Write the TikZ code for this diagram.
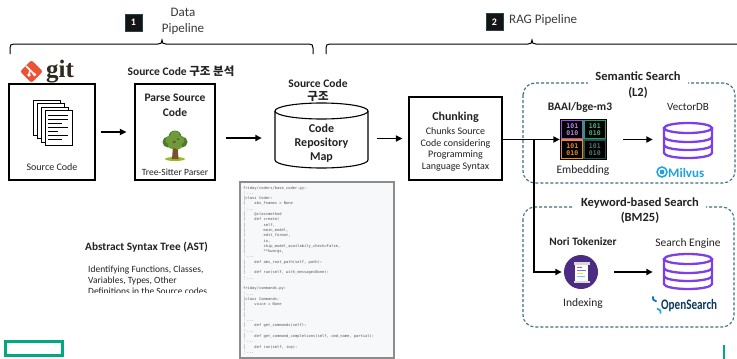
\documentclass[tikz,border=0pt]{standalone}
\usepackage{fontspec}
\setmainfont{Carlito}
\newfontfamily\kr{Noto Sans CJK KR}
\newfontfamily\codefont{DejaVu Sans Mono}
\newfontfamily\dvs{DejaVu Sans}
\newfontfamily\gitfont{Liberation Serif}
\usetikzlibrary{arrows.meta,calc}

\definecolor{txt}{HTML}{222222}
\definecolor{headtxt}{HTML}{3A3A3A}
\definecolor{gitred}{HTML}{F05133}
\definecolor{gitdark}{HTML}{2F2A1E}
\definecolor{dashc}{HTML}{3F6E7D}
\definecolor{dbpur}{HTML}{7F3FE6}
\definecolor{milvus}{HTML}{1CA0E6}
\definecolor{osnavy}{HTML}{0B3A5D}
\definecolor{osblue}{HTML}{0A72C9}
\definecolor{oslight}{HTML}{2AA7E0}
\definecolor{hpegreen}{HTML}{01A982}
\definecolor{circpur}{HTML}{4B2C82}
\definecolor{codegray}{HTML}{555555}
\definecolor{codebg}{HTML}{F7F8FA}
\definecolor{codeborder}{HTML}{8C8C8C}
\definecolor{cellpur}{HTML}{A04EE8}
\definecolor{cellgrn}{HTML}{22A06C}
\definecolor{cellorg}{HTML}{F08A1C}
\definecolor{celldim}{HTML}{2A5254}
\definecolor{leafA}{HTML}{6E9A3A}
\definecolor{leafB}{HTML}{4E7A2A}
\definecolor{trunk}{HTML}{7A5230}

% repo-map helpers
\newcommand\vd{{\dvs ⋮}...}
\newcommand\ind{\hspace*{2.41em}}

\begin{document}
\begin{tikzpicture}[x=1pt,y=-1pt,
  stagebox/.style={draw=black, line width=1.1pt, fill=white, inner sep=0pt},
  arr/.style={line width=1.6pt, -{Triangle[length=6.5pt,width=6pt]}},
  conn/.style={line width=1.8pt, -{Triangle[length=6.5pt,width=6pt]}},
  dashbox/.style={draw=dashc, dash pattern=on 3pt off 2pt, line width=1.1pt, rounded corners=12pt},
  lbl/.style={text=txt, inner sep=0pt, align=center},
  numbox/.style={fill=black!92, draw=dashc!60!black, line width=0.4pt, minimum size=17pt, inner sep=0pt,
                 text=white, font=\fontsize{10}{10}\selectfont\bfseries},
  cell/.style={line width=1.2pt, fill=black},
  bits/.style={font=\codefont\bfseries\fontsize{6.5}{7}\selectfont, align=center, inner sep=0pt},
  dbline/.style={draw=dbpur, line width=2.3pt, line cap=round},
]
\useasboundingbox (0,0) rectangle (737,359);
\fill[white] (0,0) rectangle (737,359);

% ---------- pipeline headers ----------
\draw[line width=1pt] (10,54) -- (10,48) .. controls (10,45) and (11,44) .. (14,44) -- (158,44)
  .. controls (161,44) and (162,43) .. (162,40) .. controls (162,43) and (163,44) .. (166,44)
  -- (309,44) .. controls (312,44) and (313,45) .. (313,48) -- (313,54);
\draw[line width=1pt] (326,54) -- (326,48) .. controls (326,45) and (327,44) .. (330,44) -- (528,44)
  .. controls (531,44) and (532,43) .. (532,40) .. controls (532,43) and (533,44) .. (536,44)
  -- (737,44);
\node[numbox] (n1) at (133.5,22.5) {1};
\node[lbl, text=headtxt, font=\fontsize{13}{16}\selectfont] (dp) at (183,21.5) {Data\\Pipeline};
\node[numbox] (n2) at (494.5,22) {2};
\node[lbl, text=headtxt, font=\fontsize{13}{16}\selectfont, anchor=west] (rp) at (509,20.5) {RAG Pipeline};

% ---------- git logo ----------
\node[fill=gitred, rotate=45, minimum size=16pt, inner sep=0pt, rounded corners=2pt] (gitmark) at (31.5,71.5) {};
\draw[white, line width=1.6pt] (26,66) -- (34.5,74.5);
\draw[white, line width=1.6pt] (30,70) -- (29,75);
\fill[white] (34.5,74.5) circle (1.9) (29,75) circle (1.9);
\node[anchor=base west, inner sep=0pt, text=gitdark, font=\gitfont\bfseries\fontsize{25}{25}\selectfont] (gittext) at (46,77) {git};

\node[lbl, font=\fontsize{11.5}{13}\selectfont\bfseries] (analysis) at (181,71) {Source Code {\kr 구조 분석}};

% ---------- source code ----------
\node[stagebox, minimum width=86pt, minimum height=96pt] (src) at (52,132) {};
\foreach \i in {0,1,2,3}{
  \draw[fill=white, line width=0.8pt] ({33+4*\i},{100+3.5*\i}) rectangle ({60+4*\i},{135+3.5*\i});
}
\foreach \yy/\ww in {115/20,119/20,123/14,127/20,131/10,135/20,139/14}{
  \draw[line width=1pt] (48,\yy) -- ({48+\ww},\yy);
}
\node[lbl, font=\fontsize{10}{12}\selectfont] (srclbl) at (52,167) {Source Code};

% ---------- parser ----------
\node[stagebox, minimum width=80pt, minimum height=96pt] (parse) at (175,132) {};
\node[lbl, font=\fontsize{11.5}{15}\selectfont\bfseries] (parsetitle) at (175,105.5) {Parse Source\\Code};
\fill[leafA!70!yellow] (175,159) ellipse (10 and 2);
\fill[trunk] (173,146) -- (177.5,146) -- (178.5,159) -- (172,159) -- cycle;
\fill[leafB] (168,142) circle (5.5) (182,142) circle (5.5) (175,137) circle (6.5);
\fill[leafA] (170,140) circle (4.5) (180,140) circle (4.5) (175,136) circle (5) (172,145) circle (4) (178,145.5) circle (4);
\fill[trunk!80!black] (174,142) circle (1.2) (178,139) circle (1);
\node[lbl, font=\fontsize{9.5}{11}\selectfont] (parselbl) at (175,172) {Tree-Sitter Parser};

% ---------- repository map (cylinder) ----------
\node[lbl, font=\fontsize{11.5}{13}\selectfont\bfseries] (maptitle) at (318,91) {Source Code\\{\kr 구조}};
\node[minimum width=93pt, minimum height=65pt, inner sep=0pt] (repo) at (321.5,135.5) {};
\draw[line width=1.1pt, fill=white] (275,111) -- (275,160) arc (180:0:46.5 and 8) -- (368,111);
\draw[line width=1.1pt, fill=white] (321.5,111) ellipse (46.5 and 8);
\node[lbl, font=\fontsize{12}{14}\selectfont\bfseries] (repolbl) at (321.5,143) {Code\\Repository\\Map};

% ---------- chunking ----------
\node[stagebox, minimum width=93pt, minimum height=83pt] (chunk) at (455.5,138.5) {};
\node[lbl, font=\fontsize{12}{14}\selectfont\bfseries] (chunktitle) at (455.5,117) {Chunking};
\node[lbl, font=\fontsize{10}{11.7}\selectfont] (chunkbody) at (455.5,149.5) {Chunks Source\\Code considering\\Programming\\Language Syntax};

% ---------- stage arrows ----------
\draw[arr] ([xshift=5pt]src.east) -- ([xshift=-8pt]parse.west);
\draw[arr] ([xshift=10pt,yshift=-6pt]parse.east) -- ([xshift=-13pt,yshift=-6pt]parse.east -| repo.west);
\draw[arr] ([xshift=9pt]repo.east |- chunk.east) -- ([xshift=-6pt]chunk.west);

% ---------- semantic search ----------
\draw[dashbox] (523,83) rectangle (735,183);
\node[lbl, fill=white, inner xsep=7pt, inner ysep=1pt, font=\fontsize{12.5}{16}\selectfont\bfseries] (semtitle) at (638,85) {Semantic Search\\(L2)};
\node[lbl, font=\fontsize{11.5}{13}\selectfont\bfseries] (bge) at (580,107) {BAAI/bge-m3};
\node[fill=black, minimum width=47pt, minimum height=41pt, inner sep=0pt] (emb) at (583.5,139.5) {};
\draw[cell, draw=cellpur] (561.5,120.5) rectangle (583,139);
\draw[cell, draw=cellgrn] (584,120.5) rectangle (605.5,139);
\draw[cell, draw=cellorg] (561.5,140) rectangle (583,158.5);
\draw[cell, draw=celldim] (584,140) rectangle (605.5,158.5);
\node[bits, text=cellpur!70!white] (b1) at (572.3,129.8) {101\\010};
\node[bits, text=cellgrn!80!white] (b2) at (594.8,129.8) {101\\010};
\node[bits, text=cellorg] (b3) at (572.3,149.3) {101\\010};
\node[bits, text=celldim!80!white] (b4) at (594.8,149.3) {101\\010};
\node[lbl, font=\fontsize{11.5}{13}\selectfont] (emblbl) at (583,170) {Embedding};

\node[lbl, font=\fontsize{11}{13}\selectfont] (vdblbl) at (688,107) {VectorDB};
\node[minimum width=50pt, minimum height=38pt, inner sep=0pt] (vdb) at (688,141) {};
\begin{scope}[shift={(vdb.center)}]
  \draw[dbline] (0,-13) ellipse (24 and 5);
  \draw[dbline] (-24,-13) -- (-24,12) arc (180:0:24 and 5) -- (24,-13);
  \draw[dbline] (-24,-4) arc (180:0:24 and 5);
  \draw[dbline] (-24,4) arc (180:0:24 and 5);
\end{scope}
\draw[milvus, line width=1.5pt] (662,172) circle (5);
\fill[milvus] (662,172) circle (2.4);
\node[anchor=west, inner sep=0pt, text=milvus, font=\fontsize{13}{13}\selectfont\bfseries] (milvuslbl) at (668,172.5) {Milvus};
\draw[arr] ([xshift=16pt]emb.east) -- ([xshift=-10pt]emb.east -| vdb.west);

% ---------- keyword search ----------
\draw[dashbox] (523,207) rectangle (734,327);
\node[lbl, fill=white, inner xsep=7pt, inner ysep=1pt, font=\fontsize{12.5}{15}\selectfont\bfseries] (kwtitle) at (640,210.5) {Keyword-based Search\\(BM25)};
\node[lbl, font=\fontsize{11.3}{13}\selectfont\bfseries] (nori) at (583,242) {Nori Tokenizer};
\node[circle, fill=circpur, minimum size=34pt, inner sep=0pt] (idx) at (581,272) {};
\fill[white] (575,264) rectangle (588,281);
\fill[black!15] (573.5,262) rectangle (589.5,264.5);
\fill[black!15] (573.5,280.5) rectangle (589.5,283);
\draw[red!75, line width=1pt] (577,267.5) -- (582,267.5);
\draw[blue!55, line width=1pt] (577,270.5) -- (586,270.5);
\draw[yellow!85!orange, line width=1pt] (577,273.5) -- (583,273.5);
\draw[cyan!60, line width=1pt] (577,276.5) -- (585,276.5);
\node[lbl, font=\fontsize{11.5}{13}\selectfont] (idxlbl) at (583,303) {Indexing};

\node[lbl, font=\fontsize{11.5}{13}\selectfont] (selbl) at (688,243) {Search Engine};
\node[minimum width=50pt, minimum height=38pt, inner sep=0pt] (sedb) at (688,272) {};
\begin{scope}[shift={(sedb.center)}]
  \draw[dbline] (0,-13) ellipse (24 and 5);
  \draw[dbline] (-24,-13) -- (-24,12) arc (180:0:24 and 5) -- (24,-13);
  \draw[dbline] (-24,-4) arc (180:0:24 and 5);
  \draw[dbline] (-24,4) arc (180:0:24 and 5);
\end{scope}
\draw[osblue, line width=1.8pt] (656.5,301.5) arc (90:200:3.8);
\draw[oslight, line width=1.8pt] (657,308.5) arc (270:380:3.8);
\node[anchor=west, inner sep=0pt, text=osnavy, font=\fontsize{14.5}{14.5}\selectfont\bfseries, xscale=0.77] (oslbl) at (661,305.5) {OpenSearch};
\draw[arr] ([xshift=16pt]idx.east) -- ([xshift=-10pt]idx.east -| sedb.west);

% ---------- chunk fan-out ----------
\coordinate (split) at (534,139.5);
\draw[line width=1.8pt] (chunk.east |- emb.west) -- (split);
\draw[conn] (split) -- (emb.west);
\draw[conn, shorten >=2pt] (split) |- (idx.west);

% ---------- AST notes ----------
\node[anchor=west, lbl, font=\fontsize{11.3}{13}\selectfont\bfseries] (ast) at (85,247) {Abstract Syntax Tree (AST)};
\begin{scope}
  \clip (0,0) rectangle (239,292);
  \node[anchor=north west, inner sep=0pt, align=left, text=txt, font=\fontsize{9.5}{11.3}\selectfont] (astbody) at (88,265.5) {Identifying Functions, Classes,\\Variables, Types, Other\\Definitions in the Source codes};
\end{scope}

% ---------- repository map excerpt ----------
\draw[draw=codeborder, line width=2.5pt, fill=codebg] (240,182) rectangle (394,358);
\node[anchor=north west, inner sep=0pt, align=left, text=codegray,
      font=\codefont\fontsize{3.75}{5.3}\selectfont] (codetext) at (243,186) {%
friday/coders/base\_coder.py:\\
\vd\\
│class Coder:\\
│\ind abs\_fnames = None\\
\vd\\
│\ind @classmethod\\
│\ind def create(\\
│\ind\ind self,\\
│\ind\ind main\_model,\\
│\ind\ind edit\_format,\\
│\ind\ind io,\\
│\ind\ind skip\_model\_availabily\_check=False,\\
│\ind\ind **kwargs,\\
\vd\\
│\ind def abs\_root\_path(self, path):\\
│\\
│\ind def run(self, with\_message=None):\\
\vd\\
\mbox{}\\
friday/commands.py:\\
\vd\\
│class Commands:\\
│\ind voice = None\\
│\\
│\\
\vd\\
│\ind def get\_commands(self):\\
\vd\\
│\ind def get\_command\_completions(self, cmd\_name, partial):\\
\vd\\
│\ind def run(self, inp):\\
\vd};

% ---------- footer marks ----------
\draw[hpegreen, line width=3pt] (5.5,341) rectangle (62.5,355.5);
\draw[hpegreen, line width=1.6pt] (724,345) -- (724,359);
\end{tikzpicture}
\end{document}
